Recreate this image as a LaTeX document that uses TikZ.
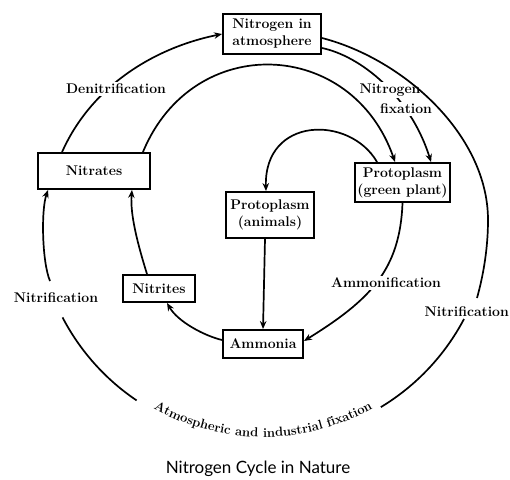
\documentclass[tikz,border=0pt]{standalone}
\usepackage{fontspec}
\newfontfamily\capfont{Lato}
\usetikzlibrary{arrows.meta,decorations.text}
\begin{document}
\begin{tikzpicture}[x=1pt,y=-1pt,
  box/.style={draw, line width=1.9pt, font=\fontsize{14}{17}\selectfont\bfseries, align=center, inner sep=1pt},
  lbl/.style={font=\fontsize{14}{17}\selectfont\bfseries, inner sep=2pt},
  wl/.style={lbl, fill=white},
  conn/.style={line width=1.7pt},
  arr/.style={conn, -{Stealth[length=8pt,width=6.5pt]}}]
\useasboundingbox (0,0) rectangle (510,479);

% boxes
\node[box, minimum width=98pt, minimum height=40pt] (atm) at (272,34) {Nitrogen in\\atmosphere};
\node[box, minimum width=112pt, minimum height=36pt] (nitrates) at (94,171) {Nitrates};
\node[box, minimum width=95pt, minimum height=39pt] (plant) at (402.5,182.5) {Protoplasm\\(green plant)};
\node[box, minimum width=88pt, minimum height=46pt] (animals) at (270,215) {Protoplasm\\(animals)};
\node[box, minimum width=72pt, minimum height=27pt] (nitrites) at (159,288.5) {Nitrites};
\node[box, minimum width=80pt, minimum height=28pt] (ammonia) at (263,344) {Ammonia};

% free ends of the outer cycle
\coordinate (rA) at (477,298);
\coordinate (rB) at (464,319);
\coordinate (lB) at (136.6,400.4);
\coordinate (lA) at (50,281);

% denitrification
\draw[arr] ([xshift=25pt]nitrates.north west) .. controls (91,87) and (153,48) .. (atm.west);
\node[wl] (denit) at (116,89) {Denitrification};

% nitrates taken up by green plants
\draw[arr] ([xshift=-8pt]nitrates.north east) .. controls (193,31) and (352,38) .. ([xshift=41pt]plant.north west);

% nitrogen fixation
\draw[arr] ([yshift=-14pt]atm.east) .. controls (360,56) and (410,95) .. ([xshift=77pt]plant.north west);
\node[wl] (fixN) at (390,90) {Nitrogen};
\node[wl] (fixF) at (406,109) {fixation};

% outer right arc
\draw[conn] ([yshift=-4pt]atm.east) .. controls (403.5,59) and (488,135) .. (488,220) .. controls (488,246) and (484,273) .. (rA);
\node[lbl, anchor=east] (nitR) at (511,312) {Nitrification};
\draw[conn] (rB) arc[start angle=-27.8, end angle=-58.9, radius=226pt];

% bottom text
\path[decorate, decoration={text along path, text align=center,
  text={|\fontsize{13}{15}\selectfont\bfseries|Atmospheric and industrial fixation}}]
  ([shift={(-121:224pt)}]263,213) arc[start angle=-121, end angle=-59, radius=224pt];

% left side
\draw[conn] (lB) arc[start angle=-124, end angle=-152.5, radius=226pt];
\node[lbl] (nitL) at (56,298) {Nitrification};
\draw[arr] (lA) .. controls (42,262) and (41,210) .. ([xshift=11pt]nitrates.south west);

% inner cycle
\draw[arr] ([xshift=-12pt]nitrites.north) .. controls (138,245) and (130,215) .. ([xshift=-19pt]nitrates.south east);
\draw[arr] ([yshift=4pt]ammonia.west) .. controls (205,336) and (178,322) .. ([xshift=8pt]nitrites.south);
\draw[arr] ([xshift=-5pt]animals.south) -- (ammonia.north);
\draw[arr] ([xshift=23pt]plant.north west) .. controls (350,115) and (264,116) .. ([xshift=-4pt]animals.north);
\draw[arr] (plant.south) .. controls (400,270) and (370,300) .. ([yshift=3pt]ammonia.east);
\node[wl] (ammon) at (386,283) {Ammonification};

% caption
\node[font=\capfont\fontsize{17}{20}\selectfont] (cap) at (258,469) {Nitrogen Cycle in Nature};
\end{tikzpicture}
\end{document}
